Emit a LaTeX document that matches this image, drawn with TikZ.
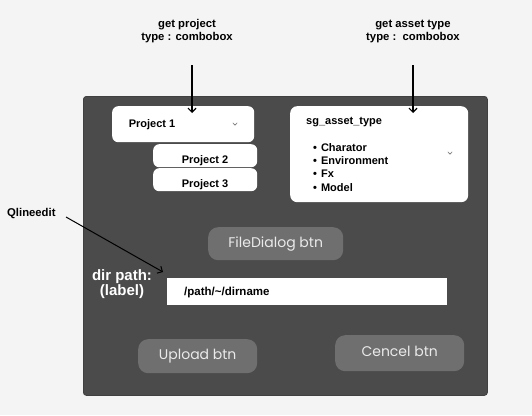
\documentclass[tikz,border=0pt]{standalone}
\usepackage{fontspec}
\setmainfont{Liberation Sans}
\newfontfamily\popfont{Poppins}
\usetikzlibrary{arrows.meta}
\definecolor{bgc}{HTML}{F4F4F4}
\definecolor{panelc}{HTML}{4B4B4B}
\definecolor{btnc}{HTML}{6F6F6F}
\definecolor{btntext}{HTML}{EAEAEA}
\definecolor{chevc}{HTML}{777777}
\begin{document}
\begin{tikzpicture}[x=1pt,y=-1pt,
  wbox/.style={fill=white,draw=none,inner sep=0pt,anchor=north west,rounded corners=6pt},
  btnbox/.style={fill=btnc,draw=none,inner sep=0pt,anchor=north west,rounded corners=10pt,
     text=btntext,font=\popfont\fontsize{14}{16}\selectfont,text height=10pt,text depth=3pt},
  lbl/.style={font=\bfseries\fontsize{11.3}{13}\selectfont,align=center,inner sep=0pt},
  itemtxt/.style={font=\bfseries\fontsize{11}{13}\selectfont,inner sep=0pt,anchor=base west},
  arr/.style={-{Straight Barb[length=4pt,width=8pt]},line width=1.2pt,black},
  chev/.style={chevc,line width=0.6pt}
]
\fill[bgc] (0,0) rectangle (532,415);
\useasboundingbox (0,0) rectangle (532,415);

% main panel
\node[fill=panelc,draw=black!75,line width=0.8pt,rounded corners=3pt,inner sep=0pt,anchor=north west,
  minimum width=404pt,minimum height=299pt] (panel) at (83,96) {};

% project combobox
\node[wbox,minimum width=142pt,minimum height=36pt] (p1) at (112,106) {};
\node[wbox,minimum width=104pt,minimum height=23pt] (p2) at (153,144) {};
\node[wbox,minimum width=104pt,minimum height=23pt] (p3) at (153,168) {};
\node[itemtxt,anchor=base] (p1t) at (152,127.5) {Project 1};
\node[itemtxt,anchor=base] (p2t) at (205,163) {Project 2};
\node[itemtxt,anchor=base] (p3t) at (205,187) {Project 3};
\coordinate (c1) at (235,124);
\draw[chev] ([xshift=-2.2pt,yshift=1.2pt]c1) -- ([yshift=-1.2pt]c1) -- ([xshift=2.2pt,yshift=1.2pt]c1);

% asset type combobox
\node[wbox,rounded corners=7pt,minimum width=178pt,minimum height=96pt] (at) at (290,106) {};
\node[itemtxt] (att) at (306,124) {sg\_asset\_type};
\node[itemtxt] (b1) at (313,151) {•\hspace{4pt}Charator};
\node[itemtxt] (b2) at (313,164.3) {•\hspace{4pt}Environment};
\node[itemtxt] (b3) at (313,177.6) {•\hspace{4pt}Fx};
\node[itemtxt] (b4) at (313,191) {•\hspace{4pt}Model};
\coordinate (c2) at (450,153);
\draw[chev] ([xshift=-2.2pt,yshift=1.2pt]c2) -- ([yshift=-1.2pt]c2) -- ([xshift=2.2pt,yshift=1.2pt]c2);

% top labels and arrows
\node[lbl,anchor=base] (l1) at (187,40) {get project\\type : combobox};
\node[lbl,anchor=base] (l2) at (413,40) {get asset type\\type :\ \ combobox};
\coordinate (a1s) at (192,65);
\coordinate (a1e) at (192,113);
\coordinate (a2s) at (413,65);
\coordinate (a2e) at (413,113);
\draw[arr] (a1s) -- (a1e);
\draw[arr] (a2s) -- (a2e);

% file dialog button
\node[btnbox,minimum width=135pt,minimum height=33pt] (fd) at (208,227) {FileDialog btn};

% dir path label and line edit
\node[font=\bfseries\fontsize{15}{12}\selectfont,text=white,align=center,inner sep=0pt,anchor=base] (dl) at (122,295) {dir path:\\(label)};
\node[fill=white,inner sep=0pt,anchor=north west,minimum width=280pt,minimum height=27pt] (le) at (167,278) {};
\node[font=\bfseries\fontsize{11.5}{13}\selectfont,inner sep=0pt,anchor=base west] (let) at (184,295.5) {/path/\char`~/dirname};

% Qlineedit label and arrow
\node[font=\bfseries\fontsize{11.3}{13}\selectfont,inner sep=0pt,anchor=base west] (ql) at (7,216) {Qlineedit};
\coordinate (a3s) at (66,217);
\coordinate (a3e) at (163,272);
\draw[arr,line width=1pt] (a3s) -- (a3e);

% bottom buttons
\node[btnbox,minimum width=119pt,minimum height=34pt] (up) at (138,339) {Upload btn};
\node[btnbox,minimum width=129pt,minimum height=36pt] (cn) at (335,335) {Cencel btn};
\end{tikzpicture}
\end{document}
